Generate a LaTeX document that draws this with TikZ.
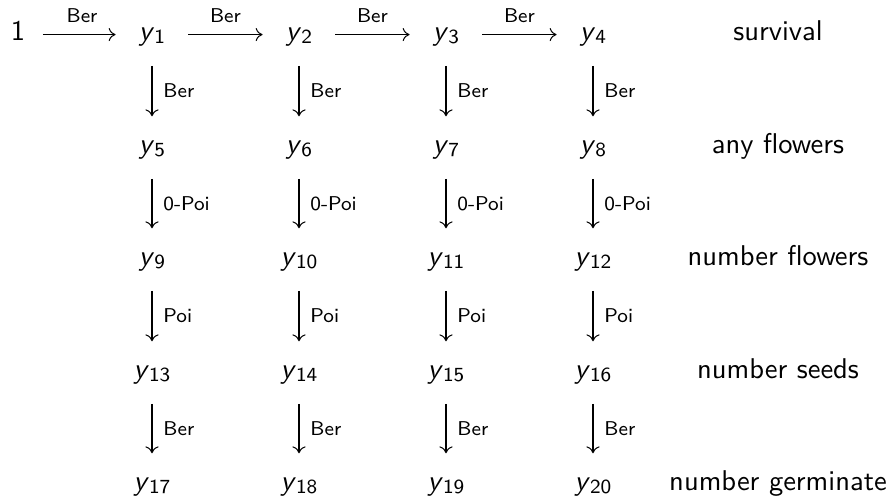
\documentclass[tikz,border=0pt]{standalone}
\usetikzlibrary{arrows.meta}
\renewcommand{\familydefault}{\sfdefault}
\tikzset{
    val/.style = {inner sep=0pt, text height=6pt, text depth=1.5pt, anchor=base},
    stage/.style = {anchor=base},
    tip/.style = {-{To[length=2.4pt, width=4.6pt, line width=0.35pt]}},
    hor/.style = {tip, shorten <=8pt, shorten >=8pt},
    ver/.style = {tip, shorten <=7pt, shorten >=7pt},
    lab/.style = {font=\scriptsize, inner sep=3.8pt}
}
\newcommand{\yv}[1]{\textit{y}\raisebox{-1pt}{\scriptsize #1}}

\begin{document}
\begin{tikzpicture}[x=0.35pt, y=-0.35pt]
\useasboundingbox (0,0) rectangle (892,498);

% ---- survival (row 1) ----
\node[val] (one) at (18,41) {1};
\node[val] (y1) at (152,41) {\yv{1}};
\node[val] (y2) at (299,41) {\yv{2}};
\node[val] (y3) at (446,41) {\yv{3}};
\node[val] (y4) at (593,41) {\yv{4}};
\node[stage] (s1) at (778,41) {survival};

% ---- any flowers (row 2) ----
\node[val] (y5) at (152,154) {\yv{5}};
\node[val] (y6) at (299,154) {\yv{6}};
\node[val] (y7) at (446,154) {\yv{7}};
\node[val] (y8) at (593,154) {\yv{8}};
\node[stage] (s2) at (778,154) {any flowers};

% ---- number flowers (row 3) ----
\node[val] (y9) at (152,266) {\yv{9}};
\node[val] (y10) at (299,266) {\yv{10}};
\node[val] (y11) at (446,266) {\yv{11}};
\node[val] (y12) at (593,266) {\yv{12}};
\node[stage] (s3) at (778,266) {number flowers};

% ---- number seeds (row 4) ----
\node[val] (y13) at (152,379) {\yv{13}};
\node[val] (y14) at (299,379) {\yv{14}};
\node[val] (y15) at (446,379) {\yv{15}};
\node[val] (y16) at (593,379) {\yv{16}};
\node[stage] (s4) at (778,379) {number seeds};

% ---- number germinate (row 5) ----
\node[val] (y17) at (152,491) {\yv{17}};
\node[val] (y18) at (299,491) {\yv{18}};
\node[val] (y19) at (446,491) {\yv{19}};
\node[val] (y20) at (593,491) {\yv{20}};
\node[stage] (s5) at (778,491) {number germinate};

% ---- Arrows ----
\draw[hor, shorten <=6pt] (one) -- node[above, lab] {Ber} (y1);
\draw[hor] (y1) -- node[above, lab] {Ber} (y2);
\draw[hor] (y2) -- node[above, lab] {Ber} (y3);
\draw[hor] (y3) -- node[above, lab] {Ber} (y4);

\draw[ver] (y1) -- node[right, lab] {Ber} (y5);
\draw[ver] (y2) -- node[right, lab] {Ber} (y6);
\draw[ver] (y3) -- node[right, lab] {Ber} (y7);
\draw[ver] (y4) -- node[right, lab] {Ber} (y8);

\draw[ver] (y5) -- node[right, lab] {0-Poi} (y9);
\draw[ver] (y6) -- node[right, lab] {0-Poi} (y10);
\draw[ver] (y7) -- node[right, lab] {0-Poi} (y11);
\draw[ver] (y8) -- node[right, lab] {0-Poi} (y12);

\draw[ver] (y9) -- node[right, lab] {Poi} (y13);
\draw[ver] (y10) -- node[right, lab] {Poi} (y14);
\draw[ver] (y11) -- node[right, lab] {Poi} (y15);
\draw[ver] (y12) -- node[right, lab] {Poi} (y16);

\draw[ver] (y13) -- node[right, lab] {Ber} (y17);
\draw[ver] (y14) -- node[right, lab] {Ber} (y18);
\draw[ver] (y15) -- node[right, lab] {Ber} (y19);
\draw[ver] (y16) -- node[right, lab] {Ber} (y20);

\end{tikzpicture}
\end{document}
